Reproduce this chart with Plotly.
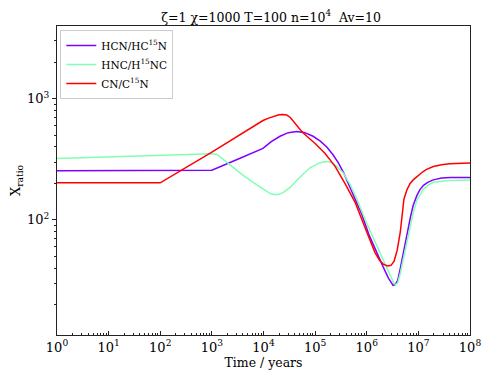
import plotly.graph_objects as go

# log10(time / years) and log10(X_ratio)
hcn_logt = [0, 3.0, 3.5, 3.99, 4.15, 4.32, 4.48, 4.65, 4.8, 4.96, 5.1, 5.23, 5.35, 5.45, 5.55, 5.74, 5.9,
            6.05, 6.2, 6.32, 6.42, 6.48, 6.51, 6.55, 6.6, 6.65, 6.72, 6.78, 6.85, 6.9, 6.97, 7.03, 7.1,
            7.18, 7.29, 7.45, 7.62, 8.0]
hcn_logx = [2.405, 2.41, 2.50, 2.59, 2.645, 2.69, 2.72, 2.73, 2.72, 2.69, 2.65, 2.60, 2.535, 2.47, 2.39, 2.21, 2.05,
            1.87, 1.72, 1.61, 1.52, 1.475, 1.46, 1.465, 1.50, 1.60, 1.76, 1.89, 2.03, 2.12, 2.20, 2.25, 2.285,
            2.31, 2.33, 2.345, 2.35, 2.35]

hnc_logt = [0, 3.0, 3.1, 3.25, 3.41, 3.6, 3.8, 4.0, 4.1, 4.19, 4.28, 4.38, 4.52, 4.7, 4.9, 5.08, 5.18,
            5.25, 5.33, 5.4, 5.54, 5.68, 5.81, 6.0, 6.2, 6.32, 6.45, 6.52, 6.56, 6.6, 6.65, 6.7, 6.78,
            6.85, 6.9, 6.97, 7.09, 7.2, 7.29, 7.6, 8.0]
hnc_logx = [2.507, 2.545, 2.54, 2.49, 2.43, 2.37, 2.31, 2.25, 2.225, 2.21, 2.21, 2.225, 2.27, 2.35, 2.43, 2.47, 2.48,
            2.48, 2.47, 2.45, 2.39, 2.29, 2.17, 1.97, 1.78, 1.66, 1.54, 1.48, 1.465, 1.48, 1.56, 1.66, 1.83,
            1.97, 2.06, 2.16, 2.25, 2.29, 2.31, 2.325, 2.33]

cn_logt = [0, 2.0, 3.0, 3.99, 4.1, 4.2, 4.3, 4.38, 4.45, 4.52, 4.61, 4.68, 4.74, 4.84, 5.0, 5.19, 5.39,
           5.58, 5.78, 6.0, 6.16, 6.25, 6.32, 6.4, 6.47, 6.53, 6.59, 6.65, 6.72, 6.78, 6.84, 6.9, 6.98,
           7.08, 7.15, 7.29, 7.45, 7.6, 8.0]
cn_logx = [2.306, 2.306, 2.56, 2.82, 2.84, 2.856, 2.868, 2.87, 2.865, 2.845, 2.80, 2.76, 2.73, 2.69, 2.63, 2.55, 2.44,
           2.30, 2.14, 1.90, 1.73, 1.665, 1.635, 1.62, 1.625, 1.66, 1.75, 1.90, 2.17, 2.25, 2.30, 2.33, 2.36,
           2.395, 2.415, 2.44, 2.455, 2.463, 2.47]

series = [
    ("HCN/HC<sup>15</sup>N", hcn_logt, hcn_logx, "#8000ff"),
    ("HNC/H<sup>15</sup>NC", hnc_logt, hnc_logx, "#80ffb4"),
    ("CN/C<sup>15</sup>N", cn_logt, cn_logx, "#ff0000"),
]

x_tick_exps = list(range(0, 9))
y_tick_exps = [2, 3]

FONT = "DejaVu Serif"

fig = go.Figure()
for name, lt, lx, col in series:
    fig.add_trace(go.Scatter(
        x=[10 ** v for v in lt], y=[10 ** v for v in lx], mode="lines", name=name,
        line=dict(color=col, width=1.5),
    ))

x_minor = [m * 10 ** k for k in range(0, 8) for m in range(2, 10)]
y_minor = [m * 10 ** k for k in range(1, 4) for m in range(2, 10) if m * 10 ** k <= 4000]

fig.update_layout(
    width=490, height=385,
    margin=dict(l=49, r=28, t=18, b=58, autoexpand=False),
    paper_bgcolor="white", plot_bgcolor="white",
    font=dict(family=FONT, size=11, color="black"),
    title=dict(text="ζ=1 χ=1000 T=100 n=10<sup>4</sup>  Av=10", x=0.537, xanchor="center",
               y=0.976, yanchor="middle", font=dict(family=FONT, size=12.5)),
    showlegend=True,
    legend=dict(x=0.008, y=0.987, xanchor="left", yanchor="top",
                bgcolor="rgba(255,255,255,0.8)", bordercolor="#cccccc", borderwidth=1,
                font=dict(family=FONT, size=10.5), tracegroupgap=0, itemwidth=30),
)
fig.update_xaxes(
    type="log", range=[0, 8], showgrid=False, zeroline=False, automargin=False,
    showline=True, linecolor="#222222", linewidth=1, mirror=True,
    tickvals=[10 ** e for e in x_tick_exps],
    ticktext=["10<sup>%d</sup>" % e for e in x_tick_exps],
    ticks="inside", ticklen=4, tickcolor="#222222",
    minor=dict(tickvals=x_minor, ticks="inside", ticklen=2, tickcolor="#222222"),
    title=dict(text="Time / years", font=dict(family=FONT, size=12.5), standoff=3),
    tickfont=dict(family=FONT, size=13),
)
fig.update_yaxes(
    type="log", range=[1.05, 3.6], showgrid=False, zeroline=False, automargin=False,
    showline=True, linecolor="#222222", linewidth=1, mirror=True,
    tickvals=[10 ** e for e in y_tick_exps],
    ticktext=["10<sup>%d</sup>" % e for e in y_tick_exps],
    ticks="outside", ticklen=4, tickcolor="#222222",
    minor=dict(tickvals=y_minor, ticks="outside", ticklen=2, tickcolor="#222222"),
    title=dict(text="X<sub>ratio</sub>", font=dict(family=FONT, size=13), standoff=8),
    tickfont=dict(family=FONT, size=13),
)

fig.write_html("out.html")
